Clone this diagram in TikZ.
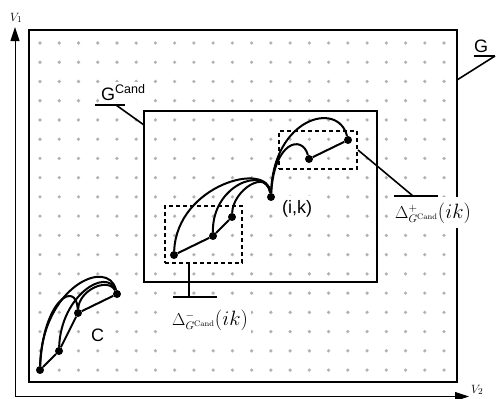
\documentclass[tikz,border=0pt]{standalone}
\usepackage[no-math]{fontspec}
\setmainfont{Liberation Sans}
\usetikzlibrary{arrows.meta}
\begin{document}
\begin{tikzpicture}[x=1pt,y=-1pt,
  griddot/.style={fill=black!30},
  axis/.style={line width=1pt,-{Triangle[length=14pt,width=9pt]}},
  frame/.style={draw,line width=2pt,inner sep=0pt},
  dbox/.style={draw,line width=2pt,dash pattern=on 4pt off 3pt,inner sep=0pt},
  vtx/.style={circle,fill=black,inner sep=0pt,minimum size=8pt},
  curve/.style={line width=2pt},
  edge/.style={line width=2pt},
  leader/.style={line width=1.6pt},
  lbl/.style={font=\fontsize{18}{20}\selectfont,fill=white,inner sep=1pt},
  dlbl/.style={fill=white,inner sep=1pt}]
\useasboundingbox (0,0) rectangle (496,399);
% grid of dots
\foreach \i in {0,...,21}
  \foreach \j in {0,...,17}
    \fill[griddot] ({40+19.24*\i},{43+19.24*\j}) circle (1.8pt);
% axes
\coordinate (O) at (15,396.5);
\coordinate (Ytip) at (15,27);
\coordinate (Xtip) at (469,396.5);
\draw[axis] (O) -- (Ytip);
\draw[axis] (O) -- (Xtip);
\node[anchor=base west,inner sep=0pt,font=\fontsize{13}{15}\selectfont] (v1) at (10,21) {$V_1$};
\node[anchor=base west,inner sep=0pt,font=\fontsize{13}{15}\selectfont] (v2) at (471,393) {$V_2$};
% frames
\node[frame,minimum width=428pt,minimum height=352pt] (G) at (243,206) {};
\node[frame,minimum width=233pt,minimum height=171pt] (Gc) at (260.5,196.5) {};
% dashed boxes
\node[dbox,minimum width=78pt,minimum height=38pt] (plusbox) at (318,150) {};
\node[dbox,minimum width=77pt,minimum height=57pt] (minusbox) at (203.5,234.5) {};
% vertices of the paths
\node[vtx] (ik) at (271,197) {};
\node[vtx] (a) at (309,159) {};
\node[vtx] (b) at (348,140) {};
\node[vtx] (d) at (174,255) {};
\node[vtx] (e) at (213,236) {};
\node[vtx] (f) at (232,217) {};
\node[vtx] (p1) at (40,370) {};
\node[vtx] (p2) at (59,351) {};
\node[vtx] (p3) at (78,313) {};
\node[vtx] (p4) at (117,294) {};
% straight edges
\draw[edge] (a) -- (b);
\draw[edge] (d) -- (e) -- (f);
\draw[edge] (p1) -- (p2) -- (p3) -- (p4);
% curved paths
\draw[curve] (ik) .. controls (273,118) and (338,100) .. (b);
\draw[curve] (ik) .. controls (274,142) and (302,134) .. (a);
\draw[curve] (d) .. controls (177,185) and (268,160) .. (ik);
\draw[curve] (e) .. controls (212,185) and (265,165) .. (ik);
\draw[curve] (f) .. controls (233,190) and (267,168) .. (ik);
\draw[curve] (p1) .. controls (42,287) and (108,257) .. (p4);
\draw[curve] (p1) .. controls (43,300) and (76,280) .. (p3);
\draw[curve] (p2) .. controls (61,295) and (107,267) .. (p4);
\draw[curve] (p3) .. controls (79,290) and (108,277) .. (p4);
% labels
\node[lbl,anchor=base west,inner sep=4pt] (ikl) at (278,213) {(i,k)};
\node[lbl,anchor=base west,inner xsep=7pt,inner ysep=7pt] (cl) at (84,341) {C};
\node[lbl,anchor=base west,inner sep=0pt] (gl) at (474,52) {G};
\node[lbl,anchor=base west,inner sep=2pt] (gcl) at (99,100) {G\raisebox{7pt}{\fontsize{12.5}{14}\selectfont Cand}};
\node[dlbl,anchor=base west,inner xsep=3pt,inner ysep=5pt] (dp) at (392,218)
  {{\fontsize{16}{18}\selectfont$\Delta^{+}_{G^{\mathrm{Cand}}}$}{\fontsize{20}{22}\selectfont$(ik)$}};
\node[dlbl,anchor=base west,inner xsep=3pt,inner ysep=5pt] (dm) at (169,325)
  {{\fontsize{16}{18}\selectfont$\Delta^{-}_{G^{\mathrm{Cand}}}$}{\fontsize{20}{22}\selectfont$(ik)$}};
% leader lines
\coordinate (gcu1) at (95,105);
\coordinate (gcu2) at (125,105);
\coordinate (gck) at (116,105);
\coordinate (gce) at (144,125);
\draw[leader] (gcu1) -- (gcu2);
\draw[leader] (gck) -- (gce);
\coordinate (gu1) at (474,56);
\coordinate (gu2) at (495,56);
\coordinate (ge) at (457,80);
\draw[leader] (gu1) -- (gu2);
\draw[leader] (gu2) -- (ge);
\coordinate (dpk) at (413,196);
\coordinate (dpu1) at (394,196);
\coordinate (dpu2) at (438,196);
\draw[leader] (plusbox.east) -- (dpk);
\draw[leader] (dpu1) -- (dpu2);
\coordinate (dmk) at (189,297);
\coordinate (dmu1) at (173,297);
\coordinate (dmu2) at (217,297);
\draw[leader] (minusbox.south -| dmk) -- (dmk);
\draw[leader] (dmu1) -- (dmu2);
\end{tikzpicture}
\end{document}
